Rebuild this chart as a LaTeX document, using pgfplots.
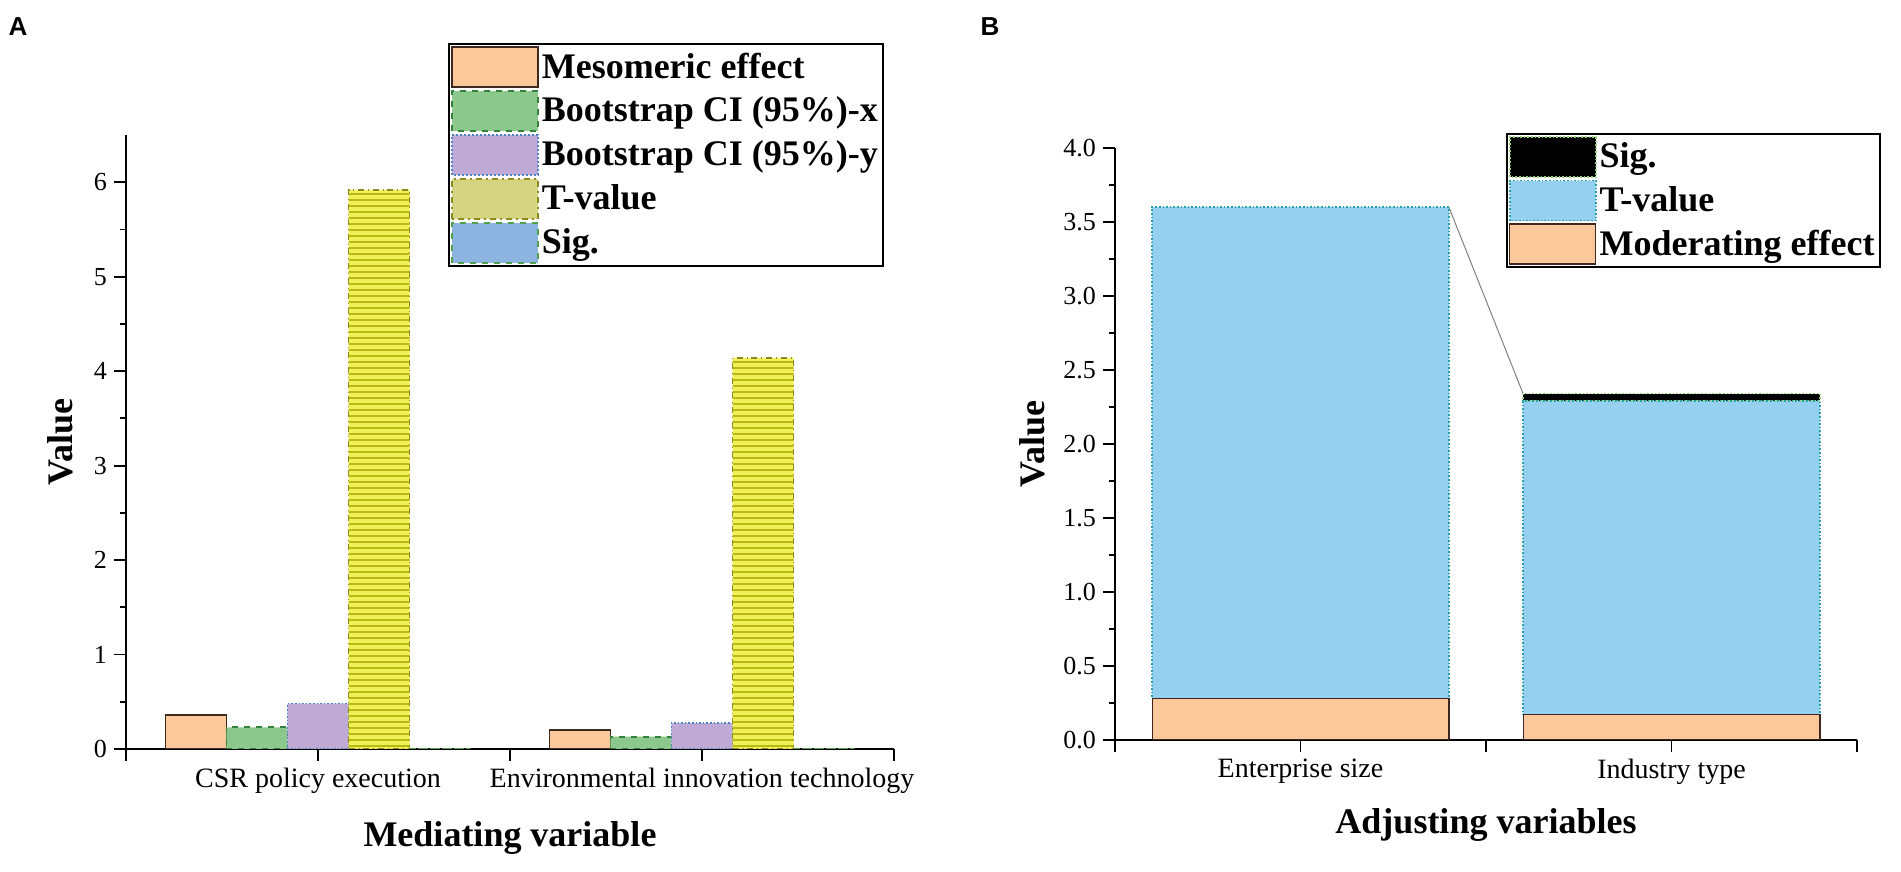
\documentclass[border=0pt]{standalone}
\usepackage{fontspec}
\setmainfont{Liberation Serif}
\newfontfamily\panelfont{Liberation Sans}
\usepackage{pgfplots}
\pgfplotsset{compat=1.18}
\usetikzlibrary{patterns.meta}

\definecolor{peach}{RGB}{250,200,155}
\definecolor{peachedge}{RGB}{60,40,30}
\definecolor{cigreen}{RGB}{140,200,140}
\definecolor{cigreenedge}{RGB}{50,130,60}
\definecolor{cipurple}{RGB}{190,170,212}
\definecolor{cipurpleedge}{RGB}{80,130,200}
\definecolor{tyellow}{RGB}{240,240,90}
\definecolor{tstripe}{RGB}{185,185,20}
\definecolor{tedge}{RGB}{140,140,30}
\definecolor{tlegend}{RGB}{212,212,130}
\definecolor{sigblue}{RGB}{140,180,225}
\definecolor{sigedge}{RGB}{80,160,80}
\definecolor{tblue}{RGB}{150,208,240}
\definecolor{tblueedge}{RGB}{40,160,170}
\definecolor{sigblackedge}{RGB}{150,210,120}

\pgfplotsset{
  panel/.style={
    scale only axis,
    axis x line*=bottom, axis y line*=left,
    axis line style={line width=1pt},
    tick align=outside,
    tick style={black, line width=0.9pt},
    major tick length=6pt, minor tick length=3pt,
    yticklabel style={font=\fontsize{13}{15}\selectfont},
    xticklabel style={font=\fontsize{14}{16}\selectfont},
    label style={font=\bfseries\fontsize{18}{20}\selectfont},
    /pgf/number format/assume math mode=true,
    xmin=0.5, xmax=2.5,
    xtick={1,2},
    extra x ticks={0.5,1.5,2.5}, extra x tick labels={},
    legend cell align=left,
    legend style={draw=black, line width=1pt, inner sep=1pt,
      font=\bfseries\fontsize{18}{20}\selectfont,
      nodes={inner sep=1.5pt}, row sep=1pt},
  },
  swatch/.style={legend image code/.code={\draw[##1] (0pt,-10pt) rectangle (43pt,10pt);}},
}

\begin{document}
\begin{tikzpicture}
\useasboundingbox (0,0) rectangle (950.5pt,436pt);
\node[font=\panelfont\bfseries\fontsize{13}{15}\selectfont] at (9pt,422.5pt) {A};
\node[font=\panelfont\bfseries\fontsize{13}{15}\selectfont] at (495pt,422.5pt) {B};

% panel A: mediating effects, five bars per group
\begin{axis}[panel,
    at={(63pt,61.5pt)}, anchor=south west,
    width=384pt, height=307pt,
    ybar=0pt, bar width=0.159,
    ymin=0, ymax=6.5,
    ytick={0,1,...,6}, minor y tick num=1,
    xticklabels={CSR policy execution, Environmental innovation technology},
    xlabel={Mediating variable}, ylabel={Value},
    xlabel style={at={(axis description cs:0.5,-0.145)}, anchor=center},
    ylabel style={at={(axis description cs:-0.086,0.5)}, anchor=center},
    legend style={at={(0.419,1.15)}, anchor=north west},
  ]
\addplot[forget plot, bar shift=-0.318, fill=peach, draw=peachedge, line width=0.8pt]
  coordinates {(1,0.36) (2,0.20)};
\addplot[forget plot, bar shift=-0.159, fill=cigreen, draw=cigreenedge, dashed, line width=0.8pt]
  coordinates {(1,0.23) (2,0.13)};
\addplot[forget plot, bar shift=0, fill=cipurple, draw=cipurpleedge, densely dotted, line width=0.8pt]
  coordinates {(1,0.48) (2,0.275)};
\addplot[forget plot, bar shift=0.159, fill=tyellow, draw=tedge, dash dot, line width=0.8pt,
    postaction={pattern={Lines[angle=0,distance=3pt,line width=1.3pt]}, pattern color=tstripe}]
  coordinates {(1,5.92) (2,4.14)};
\addplot[forget plot, bar shift=0.318, fill=sigblue, draw=sigedge, dashed, line width=0.8pt]
  coordinates {(1,0) (2,0)};
\addlegendimage{swatch, fill=peach, draw=peachedge, line width=1pt}
\addlegendentry{Mesomeric effect}
\addlegendimage{swatch, fill=cigreen, draw=cigreenedge, dashed, line width=1pt}
\addlegendentry{Bootstrap CI (95\%)-x}
\addlegendimage{swatch, fill=cipurple, draw=cipurpleedge, densely dotted, line width=1pt}
\addlegendentry{Bootstrap CI (95\%)-y}
\addlegendimage{swatch, fill=tlegend, draw=tedge, dash dot, line width=1pt}
\addlegendentry{T-value}
\addlegendimage{swatch, fill=sigblue, draw=sigedge, dashed, line width=1pt}
\addlegendentry{Sig.}
\end{axis}

% panel B: moderating effects, stacked
\begin{axis}[panel,
    at={(557.5pt,66pt)}, anchor=south west,
    width=371pt, height=296pt,
    ybar stacked, bar width=0.8,
    ymin=0, ymax=4,
    ytick={0,0.5,...,4}, minor y tick num=1,
    yticklabel={\pgfmathprintnumber[fixed,fixed zerofill,precision=1]{\tick}},
    xticklabels={Enterprise size, Industry type},
    xlabel={Adjusting variables}, ylabel={Value},
    xlabel style={at={(axis description cs:0.5,-0.144)}, anchor=center},
    ylabel style={at={(axis description cs:-0.112,0.5)}, anchor=center},
    legend style={at={(0.527,1.025)}, anchor=north west},
    reverse legend,
  ]
\addplot[swatch, fill=peach, draw=peachedge, line width=0.6pt]
  coordinates {(1,0.28) (2,0.17)};
\addlegendentry{Moderating effect}
\addplot[swatch, fill=tblue, draw=tblueedge, densely dotted, line width=0.8pt]
  coordinates {(1,3.32) (2,2.12)};
\addlegendentry{T-value}
\addplot[swatch, fill=black, draw=sigblackedge, densely dotted, line width=0.8pt]
  coordinates {(1,0.0) (2,0.05)};
\addlegendentry{Sig.}
\addplot[forget plot, stack plots=false, sharp plot, gray, line width=0.5pt]
  coordinates {(1.4,3.6) (1.6,2.34)};
\end{axis}
\end{tikzpicture}
\end{document}
